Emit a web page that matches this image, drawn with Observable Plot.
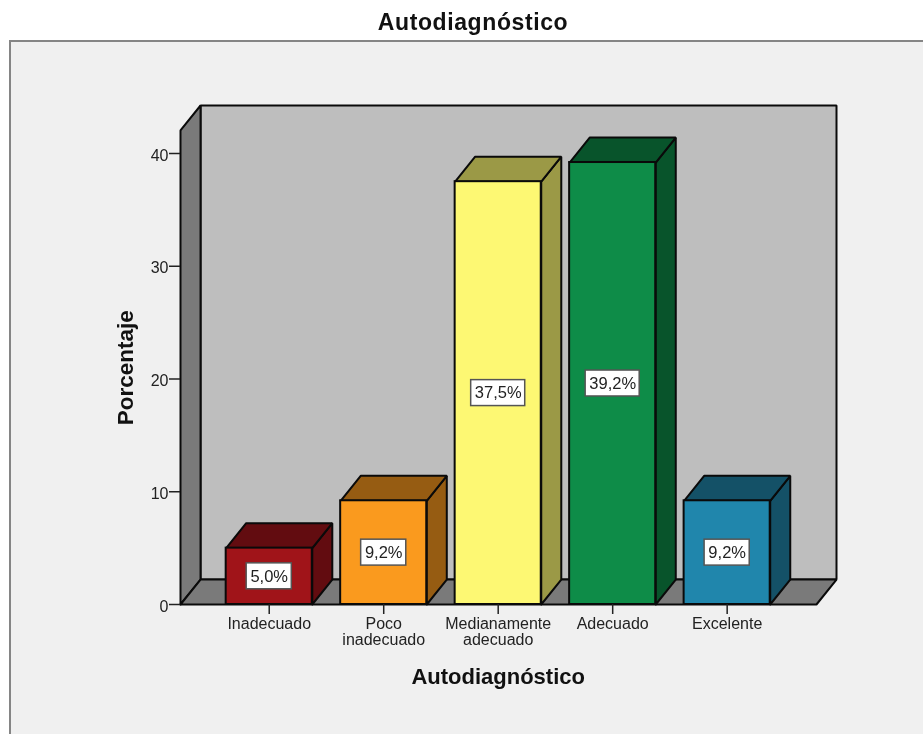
<!DOCTYPE html>
<html lang="es">
<head>
<meta charset="utf-8">
<script src="https://cdn.jsdelivr.net/npm/d3@7"></script>
<script src="https://cdn.jsdelivr.net/npm/@observablehq/plot@0.6"></script>
<style>
html,body{margin:0;padding:0;background:#fff;width:923px;height:734px;overflow:hidden}
#title{position:absolute;left:0;top:8px;width:946px;text-align:center;font:bold 23px "Liberation Sans",Arial,sans-serif;letter-spacing:.6px;color:#111;line-height:28px;filter:blur(.35px)}
#panel{position:absolute;left:9px;top:40px;width:914px;height:694px;box-sizing:border-box;background:#f0f0f0;border-left:2px solid #858585;border-top:2px solid #858585}
#chart{position:absolute;left:0;top:0;filter:blur(.35px)}
#chart svg{background:transparent;display:block}
</style>
</head>
<body>
<div id="title">Autodiagnóstico</div>
<div id="panel"></div>
<div id="chart"></div>
<script>
const categories = ["Inadecuado", "Poco\ninadecuado", "Medianamente\nadecuado", "Adecuado", "Excelente"];
const percentages = [5.0, 9.2, 37.5, 39.2, 9.2];
const frontColors = ["#a01419", "#fa9a1e", "#fdf873", "#0e8c48", "#2086ac"];
const shadeColors = ["#620c10", "#965c12", "#9b9946", "#08542b", "#145167"];
const yTicks = [0, 10, 20, 30, 40];

const xMin = -0.775, xFront = 4.78, depthX = 0.175, depthY = 2.217, wallTop = 42.04;
const halfBar = 0.376, halfBoxY = 1.15;
const halfBoxX = label => 0.039 * label.length + 0.041;

const poly = (id, fill, pts) => [...pts, pts[0]].map(([x, y]) => ({id, fill, x, y}));

const walls = [
  ...poly("back", "#bebebe", [[xMin + depthX, depthY], [xFront + depthX, depthY], [xFront + depthX, wallTop + depthY], [xMin + depthX, wallTop + depthY]]),
  ...poly("left", "#7a7a7a", [[xMin, 0], [xMin + depthX, depthY], [xMin + depthX, wallTop + depthY], [xMin, wallTop]]),
  ...poly("floor", "#7a7a7a", [[xMin, 0], [xFront, 0], [xFront + depthX, depthY], [xMin + depthX, depthY]])
];

const bars = percentages.map((v, i) => ({i, v, front: frontColors[i], label: v.toFixed(1).replace(".", ",") + "%"}));
const shades = percentages.flatMap((v, i) => {
  const a = i - halfBar, b = i + halfBar;
  return [
    ...poly(`side${i}`, shadeColors[i], [[b, 0], [b + depthX, depthY], [b + depthX, v + depthY], [b, v]]),
    ...poly(`top${i}`, shadeColors[i], [[a, v], [b, v], [b + depthX, v + depthY], [a + depthX, v + depthY]])
  ];
});

const faces = (data, strokeWidth) => Plot.line(data, {
  x: "x", y: "y", z: "id", fill: "fill", stroke: "#0a0a0a", strokeWidth, strokeLinejoin: "miter", curve: "linear"
});

const chart = Plot.plot({
  width: 923, height: 734,
  marginLeft: 180, marginRight: 87, marginTop: 105, marginBottom: 130,
  style: {fontFamily: '"Liberation Sans", Arial, sans-serif', fontSize: "16px", color: "#222", background: "transparent"},
  x: {type: "linear", domain: [xMin, xFront + depthX], range: [180, 836]},
  y: {type: "linear", domain: [0, wallTop + depthY], range: [604, 105]},
  color: {type: "identity"},
  marks: [
    faces(walls, 2),
    faces(shades, 2),
    Plot.rect(bars, {x1: d => d.i - halfBar, x2: d => d.i + halfBar, y1: 0, y2: "v", fill: "front", stroke: "#0a0a0a", strokeWidth: 2}),
    Plot.rect(bars, {x1: d => d.i - halfBoxX(d.label), x2: d => d.i + halfBoxX(d.label), y1: d => d.v / 2 - halfBoxY, y2: d => d.v / 2 + halfBoxY, fill: "#fff", stroke: "#555", strokeWidth: 1.5}),
    Plot.text(bars, {x: "i", y: d => d.v / 2, text: "label", fontSize: 16.5, fill: "#222"}),
    Plot.axisX({ticks: d3.range(categories.length), tickFormat: i => categories[i], tickSize: 10, tickPadding: 3, lineHeight: 1, label: null, stroke: "#222", strokeWidth: 1.5, fill: "#222", fontSize: 16}),
    Plot.axisY({ticks: yTicks, tickSize: 11, text: null, label: null, stroke: "#222", strokeWidth: 1.5}),
    Plot.axisY({ticks: yTicks, tickSize: 0, tickPadding: 12, label: null, tickFormat: d => String(d), fill: "#222", fontSize: 16, dy: 2}),
    Plot.text(["Autodiagnóstico"], {x: () => 2, frameAnchor: "bottom", dy: 79, text: d => d, fontWeight: "bold", fontSize: 22, fill: "#111"}),
    Plot.text(["Porcentaje"], {y: () => 21, frameAnchor: "left", dx: -55, rotate: -90, textAnchor: "middle", text: d => d, fontWeight: "bold", fontSize: 22.5, fill: "#111"})
  ]
});
document.getElementById("chart").append(chart);
</script>
</body>
</html>
